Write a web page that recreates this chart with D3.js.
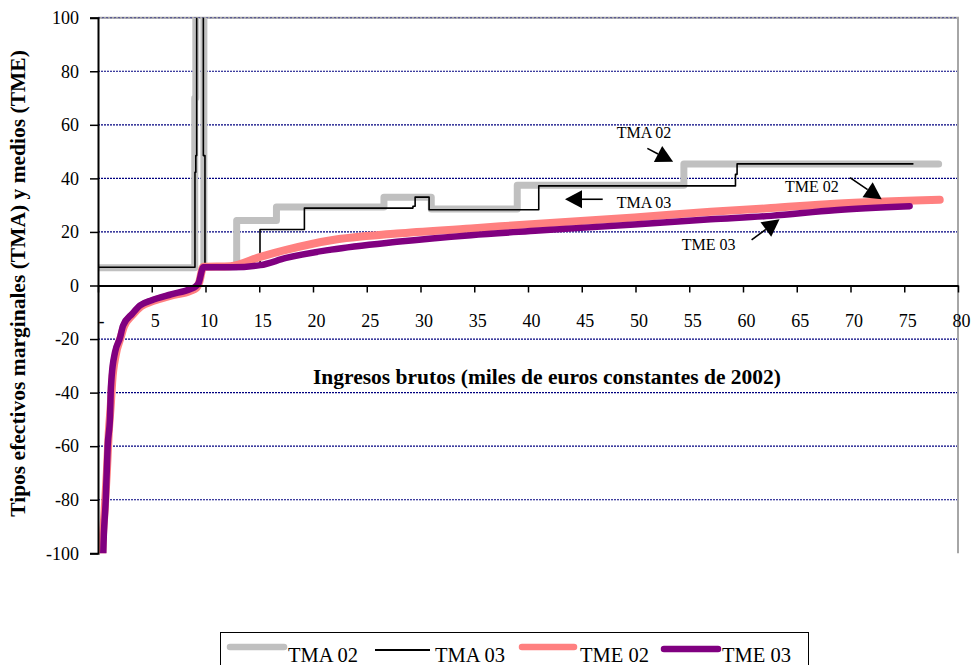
<!DOCTYPE html>
<html>
<head>
<meta charset="utf-8">
<script src="https://cdn.jsdelivr.net/npm/d3@7"></script>
<style>
  html, body { margin: 0; padding: 0; background: #ffffff; }
  svg { display: block; font-family: "Liberation Serif", "Times New Roman", serif; }
</style>
</head>
<body>
<svg id="chart" width="977" height="665"></svg>
<script>
// Gross income (thousand constant 2002 euros) and effective rates (%)
// Marginal rates are step functions: each rate holds from its income until the next one.
const tma02Income = [0, 9.0, 9.1, 9.85, 12.9, 16.6, 26.6, 31.0, 39.0, 54.5, 78.2];
const tma02Rate   = [6.6, 70, 150, 7, 24.3, 29.3, 33, 28.6, 37.4, 45.4, 45.4];

const tma03Income = [0, 9.02, 9.1, 9.18, 9.8, 9.95, 15.07, 19.2, 29.3, 29.5, 30.8, 41.0, 59.3, 59.45, 75.8];
const tma03Rate   = [6.8, 42.3, 48.5, 150, 48.5, 7, 20.9, 28.9, 29.6, 33, 28.3, 37.2, 41.5, 45.4, 45.4];

// Average rates
const tme02Income = [0.35, 0.4, 0.6, 0.82, 1.0, 1.2, 1.32, 1.65, 2.1, 2.4, 3.25, 4.0, 5.1, 6.8, 8.6, 9.15, 9.4, 9.8, 12.3, 15.1, 17.5, 21.7, 27.8, 34.7, 41, 49.9, 57, 62.6, 68.5, 78.3];
const tme02Rate   = [-115, -100, -85, -70, -55, -44, -36, -26, -19.5, -15.5, -10.8, -7.8, -5.8, -3.8, -2.0, -0.9, 1, 7.0, 7.2, 10.7, 13.3, 16.9, 19.4, 21.3, 23.1, 25.4, 27.5, 28.9, 30.5, 32];

const tme03Income = [0.45, 0.49, 0.72, 0.9, 1.12, 1.18, 1.27, 1.58, 2.05, 2.33, 3.2, 3.9, 5.0, 6.8, 8.6, 9.1, 9.35, 9.8, 12.5, 15.1, 17.5, 21.7, 27.8, 34.7, 41, 49.9, 57, 62.6, 68.5, 75.5];
const tme03Rate   = [-115, -100, -80, -60, -49, -40, -34, -25, -19.5, -15, -10.5, -7.5, -5.5, -3.3, -1.3, -0.3, 0.8, 6.8, 6.8, 7.6, 10.3, 13.4, 16.3, 18.8, 20.5, 22.8, 24.7, 26, 28.1, 29.6];

const seriesNames = ["TMA 02", "TMA 03", "TME 02", "TME 03"];
const xTicks = d3.range(0, 81, 5);
const yTicks = d3.range(-100, 101, 20);
const xTitle = "Ingresos brutos (miles de euros constantes de 2002)";
const yTitle = "Tipos efectivos marginales (TMA) y medios (TME)";

// Callout labels with their arrows, in data units: text anchor, arrow start, arrow tip
const callouts = [
  { text: "TMA 02", tx: 48.25, ty: 55.1, from: [51.1, 51.2], to: [53.5, 46.2] },
  { text: "TMA 03", tx: 48.25, ty: 28.9, from: [46.95, 32.2], to: [43.44, 32.2] },
  { text: "TME 02", tx: 63.9, ty: 34.9, from: [69.95, 40.25], to: [72.9, 32.2] },
  { text: "TME 03", tx: 54.3, ty: 13.3, from: [60.8, 17.0], to: [63.4, 24.7] }
];

const zip = (xs, ys) => xs.map((v, i) => [v, ys[i]]);

const svg = d3.select("#chart");
const plot = { left: 98, right: 958, top: 17.7, bottom: 553.3 };

const x = d3.scaleLinear().domain([0, 80]).range([plot.left, plot.right]);
const y = d3.scaleLinear().domain([-100, 100]).range([plot.bottom, plot.top]);

svg.append("rect").attr("width", 977).attr("height", 665).attr("fill", "#fff");

svg.append("defs").append("clipPath").attr("id", "plotClip")
  .append("rect")
  .attr("x", plot.left).attr("y", plot.top)
  .attr("width", plot.right - plot.left).attr("height", plot.bottom - plot.top);

// Horizontal gridlines (dotted navy)
svg.append("g").selectAll("line")
  .data(yTicks.filter(v => v !== 0 && v !== -100))
  .join("line")
  .attr("x1", plot.left).attr("x2", plot.right)
  .attr("y1", d => y(d)).attr("y2", d => y(d))
  .attr("stroke", "#000080").attr("stroke-width", 1.2)
  .attr("stroke-dasharray", "2,1");

// Plot-area frame, top and right
svg.append("path")
  .attr("d", `M${plot.left},${plot.top}H${plot.right}V${plot.bottom}`)
  .attr("fill", "none").attr("stroke", "#a6a6a6").attr("stroke-width", 2);
svg.append("line")
  .attr("x1", plot.left).attr("x2", plot.right)
  .attr("y1", y(100)).attr("y2", y(100))
  .attr("stroke", "#000080").attr("stroke-width", 1).attr("stroke-dasharray", "2,2")
  .attr("opacity", 0.55);

// Series
const stepLine = d3.line().x(d => x(d[0])).y(d => y(d[1])).curve(d3.curveStepAfter);
const smoothLine = d3.line().x(d => x(d[0])).y(d => y(d[1])).curve(d3.curveMonotoneX);

const series = [
  { name: seriesNames[0], pts: zip(tma02Income, tma02Rate), gen: stepLine, color: "#c0c0c0", w: 7 },
  { name: seriesNames[1], pts: zip(tma03Income, tma03Rate), gen: stepLine, color: "#000000", w: 1.6 },
  { name: seriesNames[2], pts: zip(tme02Income, tme02Rate), gen: smoothLine, color: "#ff8080", w: 8 },
  { name: seriesNames[3], pts: zip(tme03Income, tme03Rate), gen: smoothLine, color: "#800080", w: 6.5 }
];

const seriesG = svg.append("g").attr("clip-path", "url(#plotClip)");
seriesG.selectAll("path")
  .data(series)
  .join("path")
  .attr("d", d => d.gen(d.pts))
  .attr("fill", "none")
  .attr("stroke", d => d.color)
  .attr("stroke-width", d => d.w)
  .attr("stroke-linejoin", "round")
  .attr("stroke-linecap", "round");

// Axes
const yAxis = d3.axisLeft(y).tickValues(yTicks).tickSize(8).tickPadding(11)
  .tickFormat(d => String(d));
const yg = svg.append("g").attr("transform", `translate(${plot.left},0)`).call(yAxis);
yg.select(".domain").attr("stroke", "#000").attr("stroke-width", 2);
yg.selectAll(".tick line").attr("stroke", "#000").attr("stroke-width", 1.5);
yg.selectAll(".tick text").attr("font-size", 18).attr("fill", "#000")
  .attr("font-family", "Liberation Serif");

const xAxis = d3.axisBottom(x).tickValues(xTicks).tickSize(7).tickPadding(22)
  .tickSizeOuter(0)
  .tickFormat(d => d === 0 ? "-" : String(d));
const xg = svg.append("g").attr("transform", `translate(0,${y(0)})`).call(xAxis);
xg.select(".domain").attr("stroke", "#000").attr("stroke-width", 2);
xg.selectAll(".tick line").attr("stroke", "#000").attr("stroke-width", 1.5);
xg.selectAll(".tick text").attr("font-size", 18).attr("fill", "#000")
  .attr("font-family", "Liberation Serif").attr("dx", 3);

// Axis titles
svg.append("text")
  .attr("x", 547).attr("y", 384)
  .attr("text-anchor", "middle")
  .attr("font-size", 21.5).attr("font-weight", "bold")
  .text(xTitle);

svg.append("text")
  .attr("transform", `translate(25,${(plot.top + plot.bottom) / 2 - 2}) rotate(-90)`)
  .attr("text-anchor", "middle")
  .attr("font-size", 21.5).attr("font-weight", "bold")
  .text(yTitle);

// Callouts
const cg = svg.append("g");
callouts.forEach(c => {
  const x0 = x(c.from[0]), y0 = y(c.from[1]);
  const x1 = x(c.to[0]), y1 = y(c.to[1]);
  const ang = Math.atan2(y1 - y0, x1 - x0);
  const len = 17, half = 9;
  const bx = x1 - len * Math.cos(ang), by = y1 - len * Math.sin(ang);
  const px = -Math.sin(ang) * half, py = Math.cos(ang) * half;
  cg.append("line")
    .attr("x1", x0).attr("y1", y0).attr("x2", bx).attr("y2", by)
    .attr("stroke", "#000").attr("stroke-width", 1.6);
  cg.append("path")
    .attr("d", `M${x1},${y1}L${bx + px},${by + py}L${bx - px},${by - py}Z`)
    .attr("fill", "#000");
  cg.append("text")
    .attr("x", x(c.tx)).attr("y", y(c.ty))
    .attr("font-size", 16)
    .text(c.text);
});

// Legend
const legend = svg.append("g");
legend.append("rect")
  .attr("x", 220.5).attr("y", 632.5).attr("width", 588).attr("height", 45)
  .attr("fill", "#fff").attr("stroke", "#000").attr("stroke-width", 1);

const legendItems = [
  { s: series[0], x1: 230, x2: 284, ly: 647, tx: 288 },
  { s: series[1], x1: 375, x2: 430, ly: 650, tx: 435 },
  { s: series[2], x1: 522, x2: 574, ly: 647, tx: 580 },
  { s: series[3], x1: 664, x2: 718, ly: 649, tx: 722 }
];
legendItems.forEach(it => {
  legend.append("line")
    .attr("x1", it.x1).attr("x2", it.x2).attr("y1", it.ly).attr("y2", it.ly)
    .attr("stroke", it.s.color)
    .attr("stroke-width", it.s.w === 1.6 ? 2 : Math.min(it.s.w, 6.5))
    .attr("stroke-linecap", it.s.w === 1.6 ? "butt" : "round");
  legend.append("text")
    .attr("x", it.tx).attr("y", 662)
    .attr("font-size", 20.5)
    .text(it.s.name);
});
</script>
</body>
</html>
